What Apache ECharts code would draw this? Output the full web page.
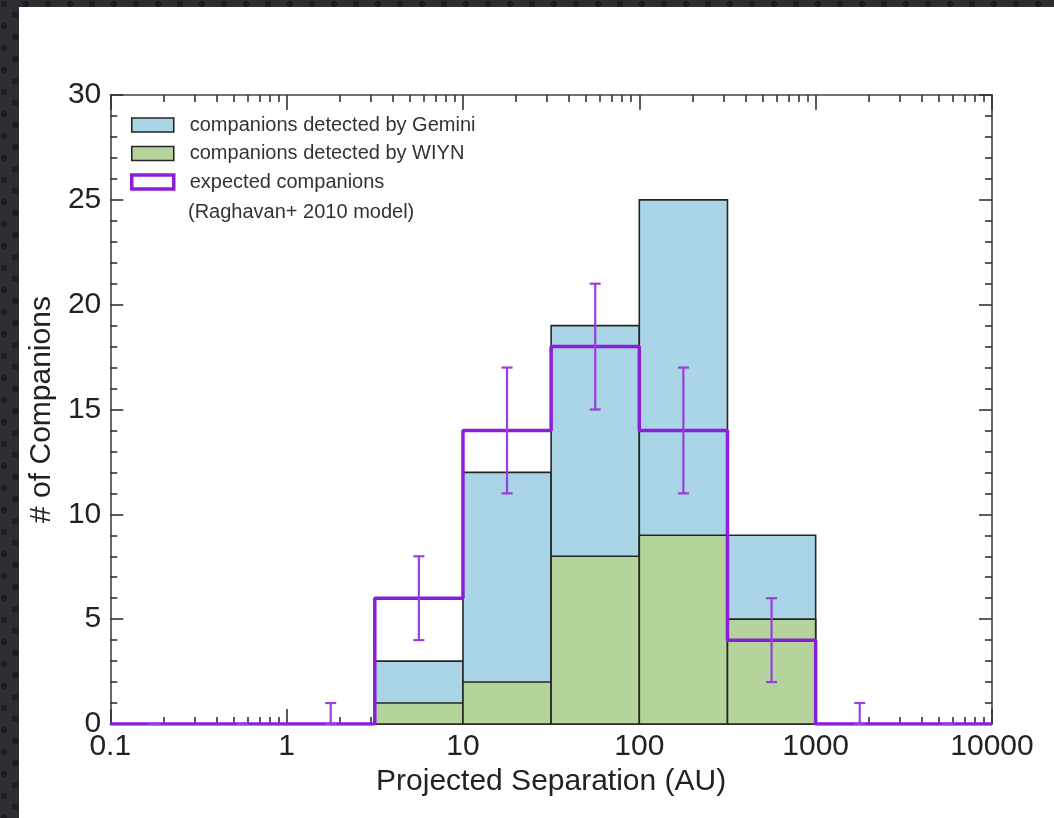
<!DOCTYPE html>
<html>
<head>
<meta charset="utf-8">
<script src="https://cdn.jsdelivr.net/npm/echarts@6/dist/echarts.min.js"></script>
<style>
    html, body { margin: 0; padding: 0; }
    body {
        width: 1054px;
        height: 818px;
        overflow: hidden;
        background-color: #2c2e32;
        background-image:
            radial-gradient(circle, #1c1d20 3px, transparent 3.5px),
            radial-gradient(circle, #1c1d20 3px, transparent 3.5px);
        background-size: 22px 22px;
        background-position: 4px 4px, 15px 15px;
        position: relative;
    }
    #chart {
        position: absolute;
        left: 19px;
        top: 7px;
        width: 1035px;
        height: 811px;
        background: #fff;
    }
</style>
</head>
<body>
<div id="chart"></div>
<script>
// histogram bins (AU), half-decade wide
const binLo = [3.162, 10, 31.62, 100, 316.2];
const binHi = [10, 31.62, 100, 316.2, 1000];
const gemini = [3, 12, 19, 25, 9];
const wiyn = [1, 2, 8, 9, 5];

// expected companions (step outline), value of each bin starting at edge
const expEdges = [0.1, 3.162, 10, 31.62, 100, 316.2, 1000, 10000];
const expected = [0, 6, 14, 18, 14, 4, 0, 0];

// error bars on the expected counts
const errX = [0.1778, 0.5623, 1.778, 5.623, 17.78, 56.23, 177.8, 562.3, 1778, 5623];
const errLow = [0, 0, 0, 4, 11, 15, 11, 2, 0, 0];
const errHigh = [0, 0, 1, 8, 17, 21, 17, 6, 1, 0];

const majorTicks = [0.1, 1, 10, 100, 1000, 10000];
const minorTicks = [];
[0.1, 1, 10, 100, 1000].forEach((d) => {
    [2, 3, 4, 5, 6, 7, 8, 9].forEach((m) => minorTicks.push(+(d * m).toPrecision(3)));
});

const FONT = 'Liberation Sans';
const BLUE = '#a9d5e6';
const GREEN = '#b4d49c';
const PURPLE = '#8b1edb';
const ERR = '#9a40da';
const EDGE = '#262626';

function barItem(values) {
    return function (params, api) {
        const i = params.dataIndex;
        const p0 = api.coord([binLo[i], values[i]]);
        const p1 = api.coord([binHi[i], 0]);
        return {
            type: 'rect',
            shape: { x: p0[0], y: p0[1], width: p1[0] - p0[0], height: p1[1] - p0[1] },
            style: { fill: api.visual('color'), stroke: EDGE, lineWidth: 1.6 }
        };
    };
}

const xBase = {
    type: 'log',
    logBase: 10,
    min: 0.1,
    max: 10000,
    splitLine: { show: false },
    axisLine: { show: true, lineStyle: { color: '#444', width: 1.6 } }
};

const option = {
    animation: false,
    textStyle: { fontFamily: FONT },
    grid: { left: 91, right: 62, top: 88, bottom: 94 },
    legend: {
        orient: 'vertical',
        left: 106,
        top: 103,
        icon: 'rect',
        itemWidth: 42,
        itemHeight: 14,
        itemGap: 8.5,
        selectedMode: false,
        textStyle: { fontFamily: FONT, fontSize: 20, lineHeight: 20, color: '#333', padding: [0, 0, 0, 11] },
        data: [
            { name: 'companions detected by Gemini', itemStyle: { color: BLUE, borderColor: EDGE, borderWidth: 1.6 } },
            { name: 'companions detected by WIYN', itemStyle: { color: GREEN, borderColor: EDGE, borderWidth: 1.6 } },
            { name: 'expected companions', itemStyle: { color: '#fff', borderColor: PURPLE, borderWidth: 3.5 } }
        ]
    },
    graphic: [{
        type: 'text',
        left: 169,
        top: 195,
        style: { text: '(Raghavan+ 2010 model)', fontFamily: FONT, fontSize: 20, fill: '#333' }
    }],
    xAxis: [
        Object.assign({}, xBase, {
            position: 'bottom',
            name: 'Projected Separation (AU)',
            nameLocation: 'middle',
            nameGap: 42,
            nameTextStyle: { fontFamily: FONT, fontSize: 30, color: '#222' },
            axisTick: { inside: true, length: 15, customValues: majorTicks, lineStyle: { color: '#333', width: 1.6 } },
            axisLabel: {
                customValues: majorTicks,
                fontFamily: FONT, fontSize: 30, color: '#222', margin: 8,
                formatter: (v) => String(+(+v).toPrecision(6))
            }
        }),
        Object.assign({}, xBase, {
            position: 'bottom',
            axisLine: { show: false },
            axisLabel: { show: false },
            axisTick: { inside: true, length: 7, customValues: minorTicks, lineStyle: { color: '#333', width: 1.6 } }
        }),
        Object.assign({}, xBase, {
            position: 'top',
            axisLabel: { show: false },
            axisTick: { inside: true, length: 15, customValues: majorTicks, lineStyle: { color: '#333', width: 1.6 } }
        }),
        Object.assign({}, xBase, {
            position: 'top',
            axisLine: { show: false },
            axisLabel: { show: false },
            axisTick: { inside: true, length: 7, customValues: minorTicks, lineStyle: { color: '#333', width: 1.6 } }
        })
    ],
    yAxis: [
        {
            type: 'value',
            position: 'left',
            min: 0, max: 30, interval: 5,
            name: '# of Companions',
            nameLocation: 'middle',
            nameGap: 52,
            nameTextStyle: { fontFamily: FONT, fontSize: 30, color: '#222' },
            splitLine: { show: false },
            axisLine: { show: true, lineStyle: { color: '#444', width: 1.6 } },
            axisTick: { inside: true, length: 13, lineStyle: { color: '#333', width: 1.6 } },
            minorTick: { show: true, splitNumber: 5, length: 7, lineStyle: { color: '#333', width: 1.6 } },
            axisLabel: { fontFamily: FONT, fontSize: 30, color: '#222', margin: 9 }
        },
        {
            type: 'value',
            position: 'right',
            min: 0, max: 30, interval: 5,
            splitLine: { show: false },
            axisLine: { show: true, lineStyle: { color: '#444', width: 1.6 } },
            axisTick: { inside: true, length: 13, lineStyle: { color: '#333', width: 1.6 } },
            minorTick: { show: true, splitNumber: 5, length: 7, lineStyle: { color: '#333', width: 1.6 } },
            axisLabel: { show: false }
        }
    ],
    series: [
        {
            name: 'companions detected by Gemini',
            type: 'custom',
            z: 2,
            itemStyle: { color: BLUE },
            encode: { x: [0, 1], y: 2 },
            data: binLo.map((lo, i) => [lo, binHi[i], gemini[i]]),
            renderItem: barItem(gemini)
        },
        {
            name: 'companions detected by WIYN',
            type: 'custom',
            z: 3,
            itemStyle: { color: GREEN },
            encode: { x: [0, 1], y: 2 },
            data: binLo.map((lo, i) => [lo, binHi[i], wiyn[i]]),
            renderItem: barItem(wiyn)
        },
        {
            name: 'expected companions',
            type: 'line',
            z: 4,
            step: 'end',
            showSymbol: false,
            itemStyle: { color: PURPLE },
            lineStyle: { color: PURPLE, width: 3.5 },
            data: expEdges.map((x, i) => [x, expected[i]])
        },
        {
            name: 'errors',
            type: 'custom',
            z: 5,
            encode: { x: 0, y: [1, 2] },
            data: errX.map((x, i) => [x, errLow[i], errHigh[i]]),
            renderItem: (params, api) => {
                const i = params.dataIndex;
                const top = api.coord([errX[i], errHigh[i]]);
                const bot = api.coord([errX[i], errLow[i]]);
                const st = { stroke: ERR, lineWidth: 2.2 };
                return {
                    type: 'group',
                    children: [
                        { type: 'line', shape: { x1: top[0], y1: top[1], x2: bot[0], y2: bot[1] }, style: st },
                        { type: 'line', shape: { x1: top[0] - 5.5, y1: top[1], x2: top[0] + 5.5, y2: top[1] }, style: st },
                        { type: 'line', shape: { x1: bot[0] - 5.5, y1: bot[1], x2: bot[0] + 5.5, y2: bot[1] }, style: st }
                    ]
                };
            }
        }
    ]
};

const chart = echarts.init(document.getElementById('chart'));
chart.setOption(option);
</script>
</body>
</html>
